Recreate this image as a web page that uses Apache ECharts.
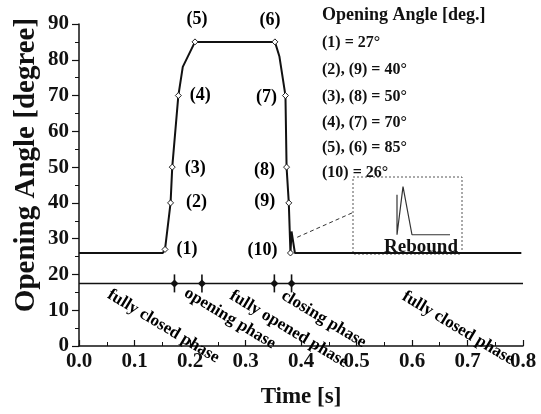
<!DOCTYPE html>
<html>
<head>
<meta charset="utf-8">
<script src="https://cdn.jsdelivr.net/npm/echarts@6/dist/echarts.min.js"></script>
<style>
html,body{margin:0;padding:0;background:#fff;}
#chart{width:541px;height:414px;}
</style>
</head>
<body>
<div id="chart"></div>
<script>
// ---- data ----
const curveTime  = [0, 0.151, 0.155, 0.165, 0.168, 0.179, 0.187, 0.209, 0.353, 0.361, 0.372, 0.374, 0.378, 0.381, 0.383, 0.385, 0.389, 0.797];
const curveAngle = [26, 26, 27, 40, 50, 70, 78, 85, 85, 81, 70, 50, 40, 26, 32, 30, 26, 26];

const pointNames = ['(1)', '(2)', '(3)', '(4)', '(5)', '(6)', '(7)', '(8)', '(9)', '(10)'];
const pointTime  = [0.155, 0.165, 0.168, 0.179, 0.209, 0.353, 0.372, 0.374, 0.378, 0.381];
const pointAngle = [27, 40, 50, 70, 85, 85, 70, 50, 40, 26];

const phaseLevel = 17.5;
const phaseBoundTime = [0.172, 0.2215, 0.352, 0.383];
const phaseNames = ['fully closed phase', 'opening phase', 'fully opened phase', 'closing phase', 'fully closed phase'];
const phaseLabelTime  = [0.152, 0.272, 0.378, 0.441, 0.683];
const phaseLabelAngle = [5.5, 7.7, 4.7, 7.5, 5.0];

const insetTime  = [0.38509, 0.38510, 0.38647, 0.38853, 0.39725];
const insetAngle = [31, 26, 32, 26, 26];

const legendTitle = 'Opening Angle [deg.]';
const legendLines = ['(1) = 27°', '(2), (9) = 40°', '(3), (8) = 50°', '(4), (7) = 70°', '(5), (6) = 85°', '(10) = 26°'];

const xTicks = [0, 0.1, 0.2, 0.3, 0.4, 0.5, 0.6, 0.7, 0.8];
const yTicks = [0, 10, 20, 30, 40, 50, 60, 70, 80, 90];
const xTitle = 'Time [s]';
const yTitle = 'Opening Angle [degree]';

// ---- layout / style ----
const FONT = '"Liberation Serif","Times New Roman",serif';
const labelOffsets = [[22,0],[26,-1],[23,1],[22,0],[2,-23],[-5,-22],[-19,2],[-22,3],[-24,-2],[-28,-3]];

const chart = echarts.init(document.getElementById('chart'), null, {renderer: 'canvas', width: 541, height: 414});

const option = {
  backgroundColor: '#fff',
  animation: false,
  grid: [
    {left: 79, right: 18, top: 24, bottom: 61},
    {left: 353, top: 177, width: 109, height: 77}
  ],
  xAxis: [{
    type: 'value', gridIndex: 0, min: xTicks[0], max: xTicks[xTicks.length-1], interval: 0.1,
    axisLine: {show: true, lineStyle: {color: '#111', width: 1.5}},
    axisTick: {show: true, inside: true, length: 6, lineStyle: {color: '#111', width: 1.2}},
    minorTick: {show: true, splitNumber: 2, length: 4, lineStyle: {color: '#111', width: 1}},
    splitLine: {show: false},
    axisLabel: {color: '#111', fontFamily: FONT, fontWeight: 'bold', fontSize: 21, margin: 5,
      formatter: v => v.toFixed(1)},
    name: xTitle, nameLocation: 'middle', nameGap: 40,
    nameTextStyle: {color: '#111', fontFamily: FONT, fontWeight: 'bold', fontSize: 23}
  }, {
    type: 'value', gridIndex: 1, min: 0.375, max: 0.400, show: false
  }],
  yAxis: [{
    type: 'value', gridIndex: 0, min: yTicks[0], max: yTicks[yTicks.length-1], interval: 10,
    axisLine: {show: true, lineStyle: {color: '#111', width: 1.5}},
    axisTick: {show: true, inside: false, length: 7, lineStyle: {color: '#111', width: 1.2}},
    minorTick: {show: true, splitNumber: 2, length: 4, lineStyle: {color: '#111', width: 1}},
    splitLine: {show: false},
    axisLabel: {color: '#111', fontFamily: FONT, fontWeight: 'bold', fontSize: 21, margin: 10}
  }, {
    type: 'value', gridIndex: 1, min: 23.6, max: 33.2, show: false
  }],
  series: [
    {
      type: 'line', xAxisIndex: 0, yAxisIndex: 0,
      data: curveTime.map((t, i) => [t, curveAngle[i]]),
      showSymbol: false, symbol: 'none', smooth: false,
      lineStyle: {color: '#111', width: 2},
      z: 3,
      markLine: {
        silent: true, symbol: ['none', 'arrow'], symbolSize: [0, 9],
        lineStyle: {color: '#333', width: 1, type: [4, 3]},
        label: {show: false},
        data: [[{coord: [0.492, 37.2]}, {coord: [0.389, 30.1]}]]
      }
    },
    {
      type: 'scatter', xAxisIndex: 0, yAxisIndex: 0,
      data: pointTime.map((t, i) => ({
        value: [t, pointAngle[i]], name: pointNames[i],
        label: {offset: labelOffsets[i]}
      })),
      symbol: 'diamond', symbolSize: 6,
      itemStyle: {color: '#fff', borderColor: '#222', borderWidth: 1, opacity: 1},
      label: {show: true, position: 'inside', formatter: p => p.name,
        color: '#000', fontFamily: FONT, fontWeight: 'bold', fontSize: 18},
      z: 4
    },
    {
      type: 'line', xAxisIndex: 0, yAxisIndex: 0,
      data: [[xTicks[0], phaseLevel], [xTicks[xTicks.length-1], phaseLevel]],
      symbol: 'none', lineStyle: {color: '#111', width: 1.5}, z: 2
    },
    {
      type: 'scatter', xAxisIndex: 0, yAxisIndex: 0,
      data: phaseBoundTime.map(t => [t, phaseLevel]),
      symbol: 'rect', symbolSize: [1.6, 18], itemStyle: {color: '#111', opacity: 1}, z: 3
    },
    {
      type: 'scatter', xAxisIndex: 0, yAxisIndex: 0,
      data: phaseBoundTime.map(t => [t, phaseLevel]),
      symbol: 'diamond', symbolSize: 8, itemStyle: {color: '#111', opacity: 1}, z: 3
    },
    {
      type: 'scatter', xAxisIndex: 0, yAxisIndex: 0,
      data: phaseLabelTime.map((t, i) => ({value: [t, phaseLabelAngle[i]], name: phaseNames[i]})),
      symbolSize: 0, itemStyle: {opacity: 1},
      label: {show: true, position: 'inside', rotate: -31, formatter: p => p.name,
        color: '#000', fontFamily: FONT, fontWeight: 'bold', fontSize: 17},
      z: 5
    },
    {
      type: 'line', xAxisIndex: 1, yAxisIndex: 1,
      data: insetTime.map((t, i) => [t, insetAngle[i]]),
      symbol: 'none', lineStyle: {color: '#333', width: 1.2}
    }
  ],
  graphic: [
    {type: 'text', x: 27, y: 165, rotation: Math.PI / 2, silent: true,
      style: {text: yTitle, fill: '#111', font: 'bold 29px ' + FONT, textAlign: 'center', textVerticalAlign: 'middle'}},
    {type: 'rect', shape: {x: 353, y: 177, width: 109, height: 77}, silent: true,
      style: {fill: 'none', stroke: '#555', lineWidth: 1, lineDash: [2, 2]}},
    {type: 'text', x: 421, y: 247, silent: true,
      style: {text: 'Rebound', fill: '#111', font: 'bold 19px ' + FONT, textAlign: 'center', textVerticalAlign: 'middle'}},
    {type: 'text', x: 322, y: 15, silent: true,
      style: {text: legendTitle, fill: '#111', font: 'bold 18px ' + FONT, textAlign: 'left', textVerticalAlign: 'middle'}}
  ].concat(legendLines.map((s, i) => ({
    type: 'text', x: 322, y: [43, 70, 97, 123, 148, 173][i], silent: true,
    style: {text: s, fill: '#111', font: 'bold 16px ' + FONT, textAlign: 'left', textVerticalAlign: 'middle'}
  })))
};
chart.setOption(option);
</script>
</body>
</html>
